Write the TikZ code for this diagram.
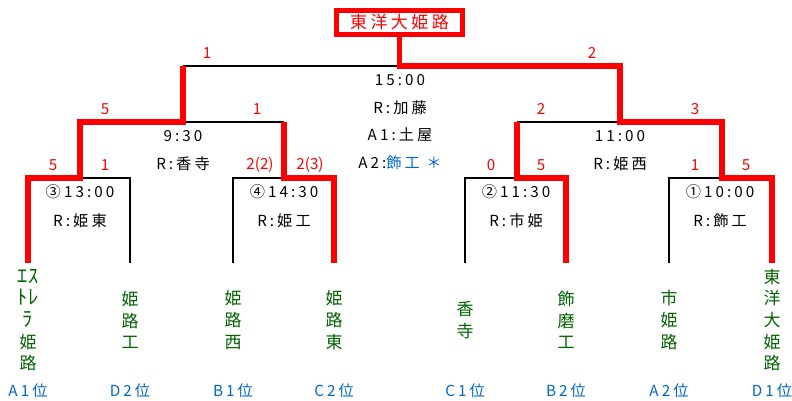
\documentclass[tikz,border=0pt]{standalone}
\usepackage{fontspec}
\setmainfont{Noto Sans CJK JP}
\newfontfamily\spacedfont[LetterSpace=20]{Noto Sans CJK JP}
\definecolor{winred}{RGB}{255, 0, 0}
\definecolor{teamgreen}{RGB}{0, 100, 0}
\definecolor{rankblue}{RGB}{0, 102, 204}
\newcommand{\hankaku}[1]{\scalebox{1.2}[1.2]{#1}}

\begin{document}
\begin{tikzpicture}[
			x=0.03cm, y=-0.03cm,
			wonline/.style={draw=winred, line width=5pt, line join=miter},
			lostline/.style={draw=black, line width=1.5pt},
			score/.style={text=winred, font=\fontsize{13}{15}\selectfont},
			info/.style={text=black, font=\spacedfont\fontsize{13}{15}\selectfont},
			team/.style={text=teamgreen, align=center, font=\fontsize{14.5}{18.4}\selectfont},
			rank/.style={text=rankblue, font=\spacedfont\fontsize{13}{15}\selectfont},
			champbox/.style={draw=winred, line width=4pt, minimum width=3.78cm, minimum height=0.72cm, inner sep=0pt, text=winred, font=\spacedfont\fontsize{14.5}{17}\selectfont}
			]
			\useasboundingbox (0,0) rectangle (792,401);
			
			% Punti del tabellone
			\coordinate (l1) at (28,263);  \coordinate (t1) at (28,178);
			\coordinate (l2) at (130,263); \coordinate (t2) at (130,178);
			\coordinate (l3) at (233,263); \coordinate (t3) at (233,178);
			\coordinate (l4) at (334,263); \coordinate (t4) at (334,178);
			\coordinate (l5) at (465,263); \coordinate (t5) at (465,178);
			\coordinate (l6) at (566,263); \coordinate (t6) at (566,178);
			\coordinate (l7) at (669,263); \coordinate (t7) at (669,178);
			\coordinate (l8) at (772,263); \coordinate (t8) at (772,178);
			\coordinate (m1) at (80,178);  \coordinate (s1) at (80,122);
			\coordinate (m2) at (284,178); \coordinate (s2) at (284,122);
			\coordinate (m3) at (517,178); \coordinate (s3) at (517,122);
			\coordinate (m4) at (722,178); \coordinate (s4) at (722,122);
			\coordinate (h1) at (183,122); \coordinate (f1) at (183,66);
			\coordinate (h2) at (620,122); \coordinate (f2) at (620,66);
			\coordinate (fc) at (399.5,66);
			
			% Vincitore
			\node[champbox] (champ) at (399.5,22.5) {東洋大姫路};
			
			% Linee perdenti
			\draw[lostline] (l2) -- (t2) -- (m1);
			\draw[lostline] (l3) -- (t3) -- (m2);
			\draw[lostline] (l5) -- (t5) -- (m3);
			\draw[lostline] (l7) -- (t7) -- (m4);
			\draw[lostline] (h1) -- (s2);
			\draw[lostline] (s3) -- (h2);
			\draw[lostline] (f1) -- (fc);
			
			% Linee vincenti
			\draw[wonline] (l1) -- (t1) -- (m1) -- (s1) -- (h1) -- (f1);
			\draw[wonline] (l4) -- (t4) -- (m2) -- (s2);
			\draw[wonline] (l6) -- (t6) -- (m3) -- (s3);
			\draw[wonline] (l8) -- (t8) -- (m4) -- (s4) -- (h2) -- (f2) -- (fc) -- (champ.south);
			
			% Punteggi
			\node[score] (sc1) at (207,53) {1};
			\node[score] (sc2) at (592,53) {2};
			\node[score] (sc3) at (105,109) {5};
			\node[score] (sc4) at (257,109) {1};
			\node[score] (sc5) at (541,109) {2};
			\node[score] (sc6) at (695,109) {3};
			\node[score] (sc7) at (53,165) {5};
			\node[score] (sc8) at (105,165) {1};
			\node[score] (sc9) at (260,165) {2(2)};
			\node[score] (sc10) at (310,165) {2(3)};
			\node[score] (sc11) at (491,165) {0};
			\node[score] (sc12) at (541,165) {5};
			\node[score] (sc13) at (695,165) {1};
			\node[score] (sc14) at (746,165) {5};
			
			% Orari e arbitri
			\node[info] (fin1) at (400,80) {15:00};
			\node[info] (fin2) at (400,108) {R:加藤};
			\node[info] (fin3) at (400,135) {A1:土屋};
			\node[info] (fin4) at (400,163) {A2:\textcolor{rankblue}{飾工 ＊}};
			\node[info] (sfl1) at (183,136) {9:30};
			\node[info] (sfl2) at (183,164) {R:香寺};
			\node[info] (sfr1) at (620,136) {11:00};
			\node[info] (sfr2) at (620,164) {R:姫西};
			\node[info] (qf3a) at (80,192) {③13:00};
			\node[info] (qf3b) at (80,221) {R:姫東};
			\node[info] (qf4a) at (284,192) {④14:30};
			\node[info] (qf4b) at (284,221) {R:姫工};
			\node[info] (qf2a) at (516,192) {②11:30};
			\node[info] (qf2b) at (516,221) {R:市姫};
			\node[info] (qf1a) at (720,192) {①10:00};
			\node[info] (qf1b) at (720,221) {R:飾工};
			
			% Squadre
			\node[team] (tm1) at (28,320) {\hankaku{ｴｽ}\\\hankaku{ﾄﾚ}\\\hankaku{ﾗ}\\姫\\路};
			\node[team] (tm2) at (130,320) {姫\\路\\工};
			\node[team] (tm3) at (233,320) {姫\\路\\西};
			\node[team] (tm4) at (334,320) {姫\\路\\東};
			\node[team] (tm5) at (465,320) {香\\寺};
			\node[team] (tm6) at (566,320) {飾\\磨\\工};
			\node[team] (tm7) at (669,320) {市\\姫\\路};
			\node[team] (tm8) at (772,320) {東\\洋\\大\\姫\\路};
			
			% Piazzamenti
			\node[rank] (rk1) at (28,391) {A1位};
			\node[rank] (rk2) at (130,391) {D2位};
			\node[rank] (rk3) at (233,391) {B1位};
			\node[rank] (rk4) at (334,391) {C2位};
			\node[rank] (rk5) at (465,391) {C1位};
			\node[rank] (rk6) at (566,391) {B2位};
			\node[rank] (rk7) at (669,391) {A2位};
			\node[rank] (rk8) at (772,391) {D1位};
			
		\end{tikzpicture}
\end{document}
